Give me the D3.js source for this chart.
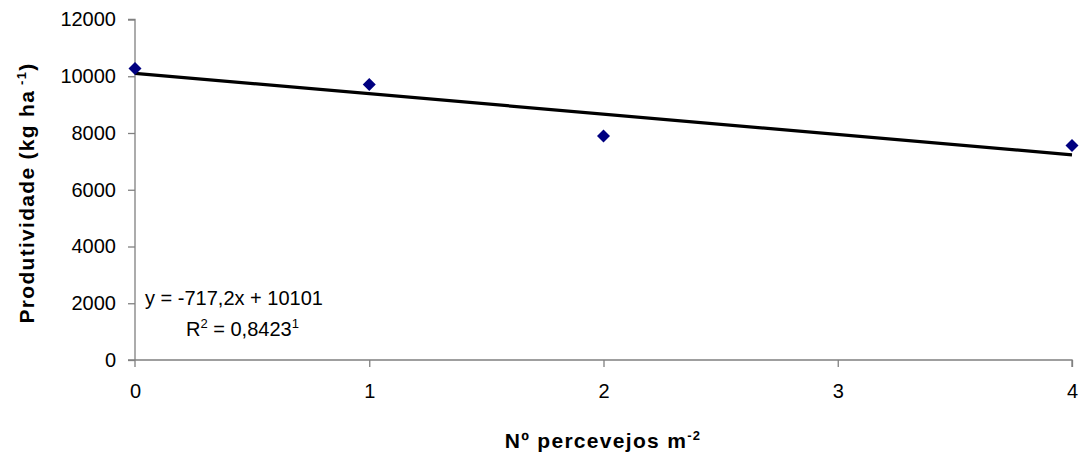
<!DOCTYPE html>
<html>
<head>
<meta charset="utf-8">
<script src="https://cdn.jsdelivr.net/npm/d3@7"></script>
<style>
  body { margin: 0; background: #fff; }
  text { font-family: "Liberation Sans", Arial, sans-serif; }
</style>
</head>
<body>
<div id="root"></div>
<script>
// data
var percevejos = [0, 1, 2, 4];
var produtividade = [10270, 9710, 7890, 7560];
var yTicks = [0, 2000, 4000, 6000, 8000, 10000, 12000];
var xTicks = [0, 1, 2, 3, 4];
var slope = -717.2, intercept = 10101;

var width = 1084, height = 457;
var mLeft = 135, mRight = 1072, mTop = 19.5, mBottom = 360;

var svg = d3.select("#root").append("svg")
  .attr("width", width).attr("height", height);

var x = d3.scaleLinear().domain([0, 4]).range([mLeft, mRight]);
var y = d3.scaleLinear().domain([0, 12000]).range([mBottom, mTop]);

var yAxis = d3.axisLeft(y).tickValues(yTicks).tickSize(7).tickPadding(12).tickFormat(d3.format("d"));
var xAxis = d3.axisBottom(x).tickValues(xTicks).tickSize(7).tickPadding(17).tickFormat(d3.format("d"));

var gy = svg.append("g").attr("transform", "translate(" + mLeft + ",0)").call(yAxis);
var gx = svg.append("g").attr("transform", "translate(0," + mBottom + ")").call(xAxis);

gy.select(".domain").attr("d", "M-7," + mTop + "H0V" + (mBottom + 7));
gx.select(".domain").attr("d", "M" + (mLeft - 7) + ",0H" + mRight + "V7");
[gx, gy].forEach(function (g) {
  g.select(".domain").attr("stroke", "#808080").attr("stroke-width", 1.3).attr("fill", "none");
  g.selectAll(".tick line").attr("stroke", "#808080").attr("stroke-width", 1.3);
  g.selectAll(".tick text").attr("fill", "#000").style("font-size", "20px")
    .style("font-family", "'Liberation Sans', Arial, sans-serif");
});
gx.selectAll(".tick").filter(function (d) { return d === 0; }).select("line").remove();

// trend line
svg.append("line")
  .attr("x1", x(0)).attr("y1", y(intercept))
  .attr("x2", x(4)).attr("y2", y(intercept + slope * 4))
  .attr("stroke", "#000").attr("stroke-width", 3.2);

// points
svg.selectAll(".pt").data(percevejos).enter().append("path")
  .attr("class", "pt")
  .attr("d", "M0,-6.5L6.5,0L0,6.5L-6.5,0Z")
  .attr("transform", function (d, i) {
    return "translate(" + x(d) + "," + y(produtividade[i]) + ")";
  })
  .attr("fill", "#000080");

// equation
svg.append("text").attr("x", 145).attr("y", 305).style("font-size", "20px")
  .text("y = -717,2x + 10101");
var r2 = svg.append("text").attr("x", 186).attr("y", 336).style("font-size", "20px");
r2.append("tspan").text("R");
r2.append("tspan").attr("dy", -8).style("font-size", "13px").text("2");
r2.append("tspan").attr("dy", 8).text(" = 0,8423");
r2.append("tspan").attr("dy", -8).style("font-size", "13px").text("1");

// axis titles
var yl = svg.append("text")
  .attr("transform", "translate(34,193) rotate(-90)")
  .attr("text-anchor", "middle")
  .style("font-size", "21px").style("font-weight", "bold").style("letter-spacing", "1.3px");
yl.append("tspan").text("Produtividade (kg ha");
yl.append("tspan").attr("dy", -8).style("font-size", "13px").text(" -1");
yl.append("tspan").attr("dy", 8).text(")");

var xl = svg.append("text")
  .attr("x", 603).attr("y", 448)
  .attr("text-anchor", "middle")
  .style("font-size", "21px").style("font-weight", "bold").style("letter-spacing", "1.3px");
xl.append("tspan").text("Nº percevejos m");
xl.append("tspan").attr("dy", -8).style("font-size", "13px").text("-2");
</script>
</body>
</html>
